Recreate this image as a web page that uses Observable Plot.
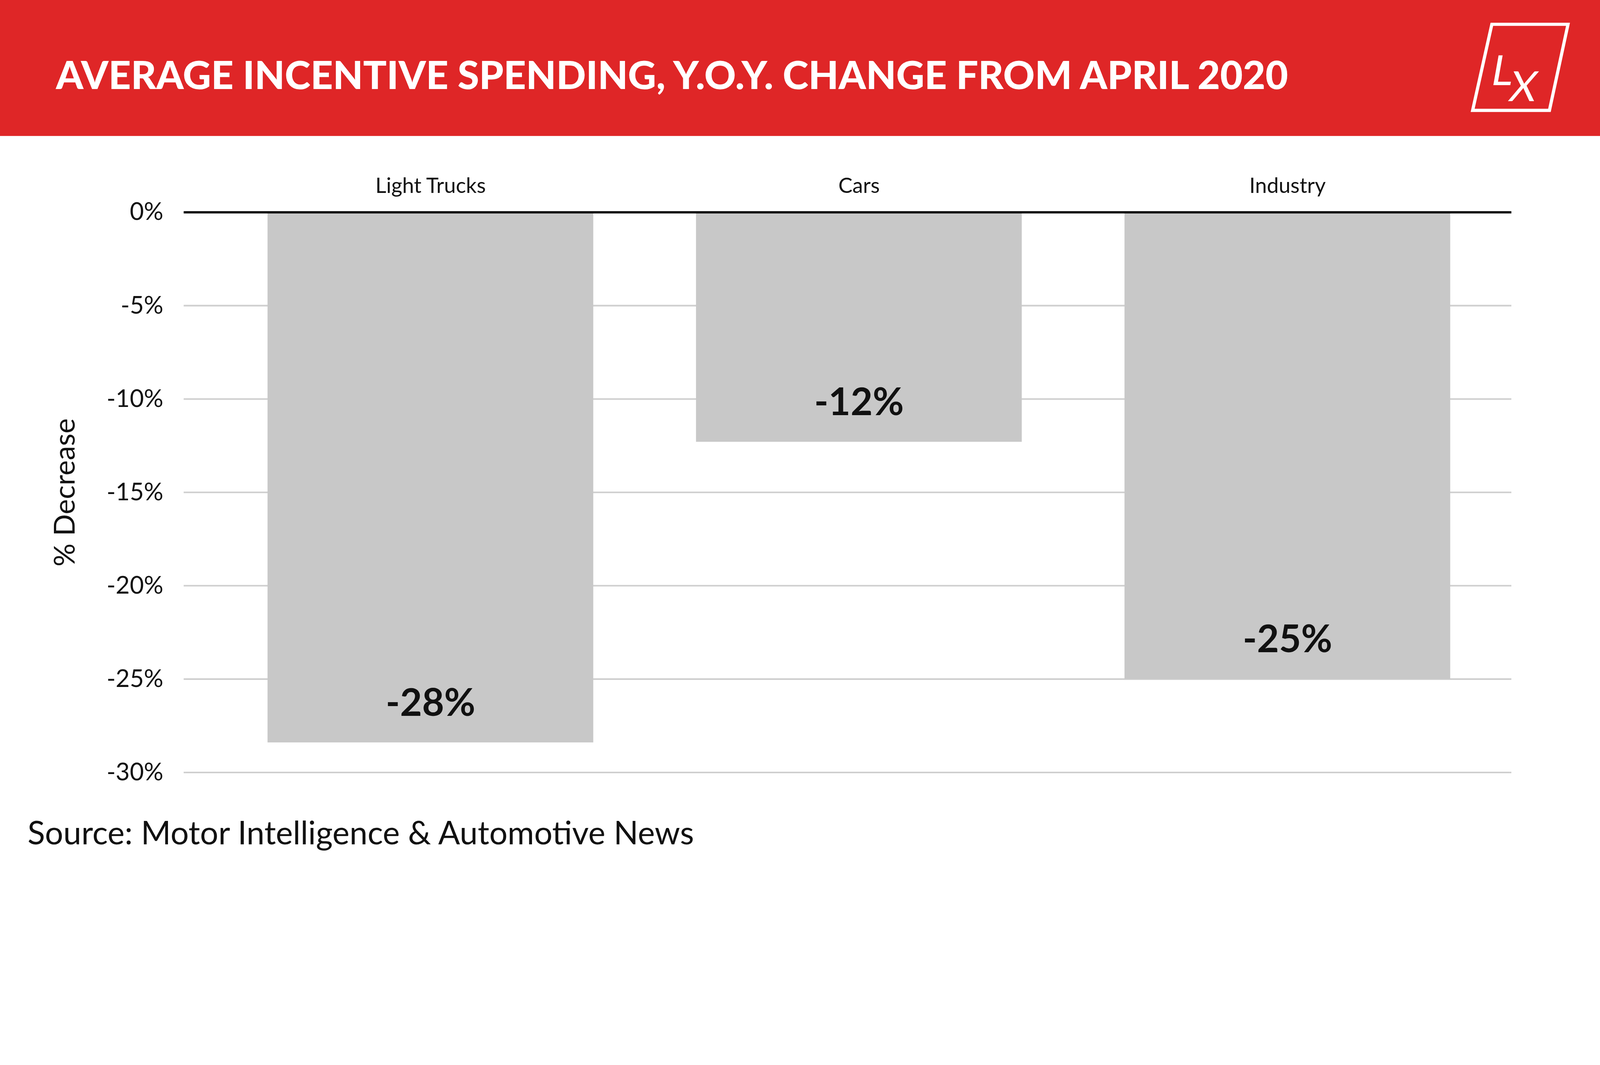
<!DOCTYPE html>
<html><head><meta charset="utf-8">
<script src="https://cdn.jsdelivr.net/npm/d3@7"></script>
<script src="https://cdn.jsdelivr.net/npm/@observablehq/plot@0.6"></script>
<style>
html,body{margin:0;background:#fff;overflow:hidden;}
#wrap{width:5000px;height:2727px;transform-origin:0 0;position:absolute;left:0;top:0;background:#fff;}
#header{position:relative;height:425px;background:#df2627;}
#title{position:absolute;left:175px;top:170px;color:#fff;font-family:Lato;font-weight:900;font-size:122px;line-height:1;}
#logo{position:absolute;left:4590px;top:66px;}
#source{font-family:Lato;font-size:101px;color:#111;margin-left:86px;margin-top:34px;}
</style></head><body>
<div id="wrap">
<div id="header"><div id="title">AVERAGE INCENTIVE SPENDING, Y.O.Y. CHANGE FROM APRIL 2020</div>
<svg id="logo" width="330" height="290" viewBox="0 0 330 290"><polygon points="72,10 310,10 252,279 12,279" fill="none" stroke="#fff" stroke-width="10"/>
<text x="100" y="200" fill="#fff" font-family="Lato" font-size="130" transform="skewX(-10)">L</text>
<text x="165" y="250" fill="#fff" font-family="Lato" font-size="130" transform="skewX(-10)">X</text></svg>
</div>
<div id="chart"></div>
<div id="source">Source: Motor Intelligence &amp; Automotive News</div>
</div>
<script>
const categories = ["Light Trucks", "Cars", "Industry"];
const values = [-28.4, -12.3, -25.0];
const labels = ["-28%", "-12%", "-25%"];
const yTicks = [0, -5, -10, -15, -20, -25, -30];
const data = categories.map((c, i) => ({cat: c, v: values[i], label: labels[i]}));

const chart = Plot.plot({
  width: 5000, height: 2080,
  marginTop: 238, marginBottom: 91, marginLeft: 574, marginRight: 277,
  style: {fontFamily: "Lato", background: "#fff", maxWidth: "none"},
  x: {domain: categories, paddingInner: 0.24, paddingOuter: 0.195, range: [574, 4793]},
  y: {domain: [-30, 0]},
  marks: [
    Plot.ruleY(yTicks.filter(d => d !== 0), {stroke: "#cfcfcf", strokeWidth: 5}),
    Plot.barY(data, {x: "cat", y: "v", fill: "#c8c8c8"}),
    Plot.ruleY([0], {stroke: "#000", strokeWidth: 7}),
    Plot.text(data, {x: "cat", y: "v", text: "label", dy: -122, fontSize: 119, fontWeight: 700, fill: "#111"}),
    Plot.axisX({anchor: "top", tickSize: 0, tickPadding: 60, fontSize: 66, label: null, fill: "#111"}),
    Plot.axisY({ticks: yTicks, tickSize: 0, tickPadding: 64, fontSize: 76, tickFormat: d => d + "%", label: null, fill: "#111"}),
    Plot.text(["% Decrease"], {frameAnchor: "left", dx: -370, rotate: -90, textAnchor: "middle", fontSize: 90, fill: "#111"})
  ]
});
document.getElementById("chart").appendChild(chart);
function fit(){const s=Math.min(window.innerWidth/5000, window.innerHeight/2727); document.getElementById("wrap").style.transform="scale("+s+")";}
fit(); window.addEventListener("resize", fit);
</script>
</body></html>
